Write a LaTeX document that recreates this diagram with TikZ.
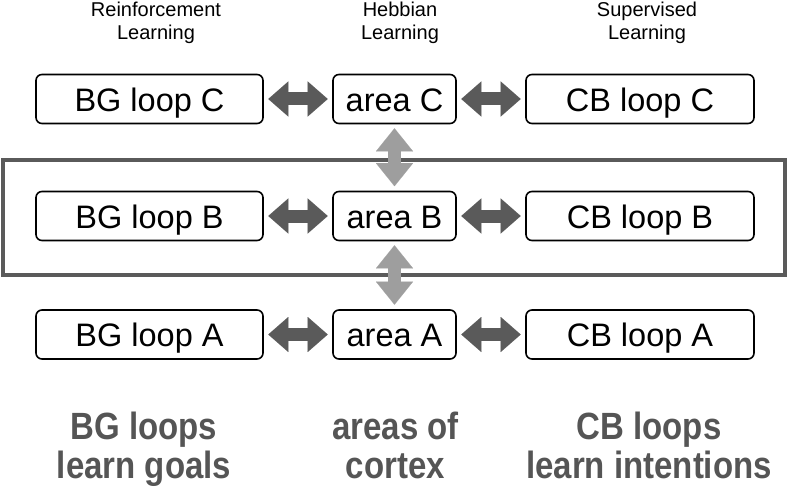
\documentclass[tikz,border=0pt]{standalone}
\usepackage{fontspec}
\setmainfont{Liberation Sans}
\usetikzlibrary{arrows.meta}
\definecolor{darkarrow}{HTML}{5A5A5A}
\definecolor{lightarrow}{HTML}{9E9E9E}
\definecolor{framegray}{HTML}{5A5A5A}
\definecolor{labelgray}{HTML}{555555}
\begin{document}
\begin{tikzpicture}[x=1pt,y=-1pt,
  box/.style={draw=black, line width=1.6pt, rounded corners=6pt,
    minimum height=49pt, inner sep=0pt, text height=24pt, text depth=0pt,
    font=\fontsize{32.5}{36}\selectfont},
  bgbox/.style={box, minimum width=227pt},
  areabox/.style={box, minimum width=123pt},
  cbbox/.style={box, minimum width=228pt},
  htip/.style={Triangle[length=20pt,width=35pt,line width=0.01pt]},
  vtip/.style={Triangle[length=23pt,width=37pt,line width=0.01pt]},
  harrow/.style={draw=darkarrow, line width=13pt, {Triangle[length=20pt,width=35pt,line width=0.01pt]}-{Triangle[length=20pt,width=35pt,line width=0.01pt]}, shorten <=4.5pt, shorten >=4.5pt},
  varrow/.style={draw=lightarrow, line width=13pt, {Triangle[length=23pt,width=37pt,line width=0.01pt]}-{Triangle[length=23pt,width=37pt,line width=0.01pt]}, shorten <=4pt, shorten >=4.5pt},
  header/.style={anchor=north, inner sep=0pt, font=\fontsize{20}{23}\selectfont},
  footer/.style={anchor=north, inner sep=0pt, text=labelgray, font=\fontsize{33}{34}\selectfont\bfseries},
  frame/.style={draw=framegray, line width=4pt}
]
\useasboundingbox (0,0) rectangle (788,487);

% frame around row B
\draw[frame] (3,160) rectangle (785,275);

% headers
\node[header] (hrl) at (156,0) {\begin{tabular}{@{}c@{}}Reinforcement\\Learning\end{tabular}};
\node[header] (hhl) at (400,0) {\begin{tabular}{@{}c@{}}Hebbian\\Learning\end{tabular}};
\node[header] (hsl) at (647,0) {\begin{tabular}{@{}c@{}}Supervised\\Learning\end{tabular}};

% boxes
\node[bgbox]   (bgC)   at (149.5,99)  {BG loop C};
\node[areabox] (areaC) at (394.5,99)  {area C};
\node[cbbox]   (cbC)   at (640,99)    {CB loop C};

\node[bgbox]   (bgB)   at (149.5,216) {BG loop B};
\node[areabox] (areaB) at (394.5,216) {area B};
\node[cbbox]   (cbB)   at (640,216)   {CB loop B};

\node[bgbox]   (bgA)   at (149.5,334.5) {BG loop A};
\node[areabox] (areaA) at (394.5,334.5) {area A};
\node[cbbox]   (cbA)   at (640,334.5)   {CB loop A};

% horizontal arrows
\draw[harrow] (bgC.east) -- (areaC.west);
\draw[harrow] (areaC.east) -- (cbC.west);
\draw[harrow] (bgB.east) -- (areaB.west);
\draw[harrow] (areaB.east) -- (cbB.west);
\draw[harrow] (bgA.east) -- (areaA.west);
\draw[harrow] (areaA.east) -- (cbA.west);

% vertical arrows
\draw[varrow] (areaC.south) -- (areaB.north);
\draw[varrow] (areaB.south) -- (areaA.north);

% footers
\node[footer] (fbg) at (144,411.6) {\scalebox{1}[1.15]{\begin{tabular}{@{}c@{}}BG loops\\learn goals\end{tabular}}};
\node[footer] (fctx) at (395.5,411.6) {\scalebox{1}[1.15]{\begin{tabular}{@{}c@{}}areas of\\cortex\end{tabular}}};
\node[footer] (fcb) at (649,411.6) {\scalebox{1}[1.15]{\begin{tabular}{@{}c@{}}CB loops\\learn intentions\end{tabular}}};
\end{tikzpicture}
\end{document}
